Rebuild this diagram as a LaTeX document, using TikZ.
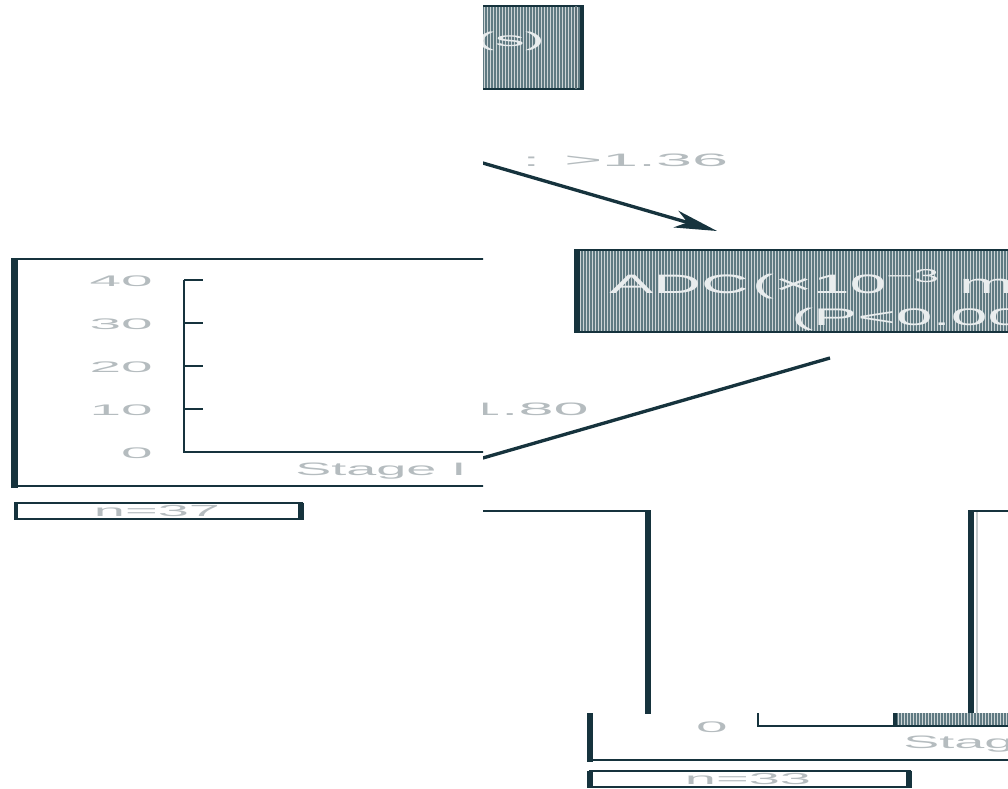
\documentclass[tikz,border=0pt]{standalone}
\usepackage{fontspec}
\setmainfont{Liberation Sans}
\usetikzlibrary{arrows.meta,patterns.meta}
\definecolor{ink}{HTML}{16333D}
\definecolor{txt}{HTML}{B5BCBF}
\definecolor{boxbg}{HTML}{CDD4D6}
\definecolor{stripe}{HTML}{5F7A82}
\definecolor{boxtext}{HTML}{E9EDEE}
\newcommand\wtext[3]{\scalebox{#1}[1]{\fontsize{#2}{#2}\selectfont #3}}
\tikzset{
  thin line/.style={draw=ink, line width=1.5pt},
  axis line/.style={draw=ink, line width=2pt},
  edge line/.style={draw=ink, line width=4.5pt},
  striped/.style={fill=boxbg, postaction={pattern={Lines[angle=90,distance=2.25pt,line width=0.85pt]}, pattern color=stripe}},
  lbl/.style={text=txt, inner sep=0pt},
  boxtxt/.style={text=boxtext, inner sep=0pt},
  conn/.style={draw=ink, line width=2.5pt},
}
\begin{document}
\begin{tikzpicture}[x=0.75pt,y=-0.75pt]
\useasboundingbox (0,0) rectangle (1008,789);
\clip (0,0) rectangle (1008,789);

% ---- top box (right part only)
\begin{scope}
  \clip (483,0) rectangle (1008,120);
  \fill[striped] (470,6) rectangle (580,89);
  \draw[thin line] (470,6) -- (580,6);
  \draw[thin line] (470,89) -- (580,89);
  \draw[draw=ink, line width=3pt] (582,5) -- (582,90);
  \draw[draw=ink!70, line width=1.5pt] (576,6) -- (576,89);
  \node[boxtxt, anchor=base east] (toptext) at (545,46) {\wtext{3}{15}{(s)}};
\end{scope}

% ---- arrow to ADC box
\coordinate (a1s) at (470,159.3);
\coordinate (a1e) at (717,231);
\begin{scope}
  \clip (483,100) rectangle (1008,245);
  \draw[conn, -{Stealth[length=32pt,width=13pt,inset=9pt]}] (a1s) -- (a1e);
\end{scope}
\node[lbl, anchor=base west] (lab1) at (522,166) {\wtext{3.6}{13.5}{: >1.36}};

% ---- ADC box
\fill[striped] (580,250) rectangle (1015,332);
\draw[thin line] (574,250) -- (1015,250);
\draw[thin line] (574,332) -- (1015,332);
\draw[edge line] (577,249) -- (577,333);
\node[boxtxt, anchor=base west] (adc1) at (609,293) {\wtext{2.48}{20}{ADC\kern1pt(×10\textsuperscript{\char"2212 3} mm²/s)}};
\node[boxtxt, anchor=base west] (adc2) at (791,325) {\wtext{2.75}{18}{(P<0.001)}};

% ---- line from ADC box down-left
\coordinate (b1s) at (830,358);
\coordinate (b1e) at (470,461.7);
\begin{scope}
  \clip (483,340) rectangle (1008,500);
  \draw[conn] (b1s) -- (b1e);
\end{scope}
\begin{scope}
  \clip (483,380) rectangle (700,430);
  \node[lbl, anchor=base east] (lab2) at (589,415) {\wtext{3.5}{13.5}{1.80}};
\end{scope}

% ---- left panel
\begin{scope}
  \clip (0,250) rectangle (483,495);
  \draw[thin line] (14,259) -- (500,259);
  \draw[axis line] (14,486) -- (500,486);
  \draw[draw=ink, line width=5pt] (14.5,258) -- (14.5,487.5);
  \draw[axis line] (184,280) -- (184,452) -- (500,452);
  \foreach \yy in {280,323,366,409} {
    \draw[draw=ink, line width=1.3pt] (184,\yy) -- (203,\yy);
  }
  \node[lbl, anchor=base east] (y40) at (153,286) {\wtext{3.7}{11.5}{40}};
  \node[lbl, anchor=base east] (y30) at (153,329) {\wtext{3.7}{11.5}{30}};
  \node[lbl, anchor=base east] (y20) at (153,372) {\wtext{3.7}{11.5}{20}};
  \node[lbl, anchor=base east] (y10) at (153,415) {\wtext{3.7}{11.5}{10}};
  \node[lbl, anchor=base east] (y0)  at (153,458) {\wtext{3.7}{11.5}{0}};
  \node[lbl, anchor=base west] (stg1) at (295,475) {\wtext{3.0}{13.5}{Stage I}};
\end{scope}

% ---- n=37 box
\draw[draw=ink, line width=1.2pt] (15,503) rectangle (302,519);
\draw[draw=ink, line width=3pt] (16,502.5) -- (16,519.5);
\draw[draw=ink, line width=4.5pt] (301,502.5) -- (301,519.5);
\node[lbl] (n37) at (157,511) {\wtext{3.5}{12}{n=37}};

% ---- lower right, upper tile
\begin{scope}
  \clip (483,500) rectangle (1008,713);
  \draw[thin line] (483,511) -- (649,511);
  \draw[draw=ink, line width=4.5pt] (648,510) -- (648,720);
  \draw[thin line] (971,511) -- (1010,511);
  \draw[draw=ink, line width=4.5pt] (971,510) -- (971,720);
  \draw[draw=ink!25, line width=2pt] (977,512) -- (977,720);
\end{scope}

% ---- lower right, bottom tile
\begin{scope}
  \clip (585,713) rectangle (1008,789);
  \draw[draw=ink, line width=5pt] (590,705) -- (590,762);
  \draw[axis line] (588,760) -- (1010,760);
  \fill[striped] (895,705) rectangle (1010,725);
  \draw[draw=ink, line width=2.5pt] (895,705) -- (895,726);
  \draw[axis line] (758,705) -- (758,726) -- (1010,726);
  \node[lbl, anchor=base east] (x0) at (728,732) {\wtext{3.7}{11.5}{0}};
  \node[lbl, anchor=base west] (stg2) at (903,748) {\wtext{3.0}{13.5}{Stage II}};
\end{scope}

% ---- n=33 box
\draw[draw=ink, line width=1.2pt] (590,771) rectangle (910,787);
\draw[draw=ink, line width=4pt] (590,770.5) -- (590,787.5);
\draw[draw=ink, line width=4pt] (909,770.5) -- (909,787.5);
\node[lbl] (n33) at (748,779) {\wtext{3.5}{12}{n=33}};
\end{tikzpicture}
\end{document}
